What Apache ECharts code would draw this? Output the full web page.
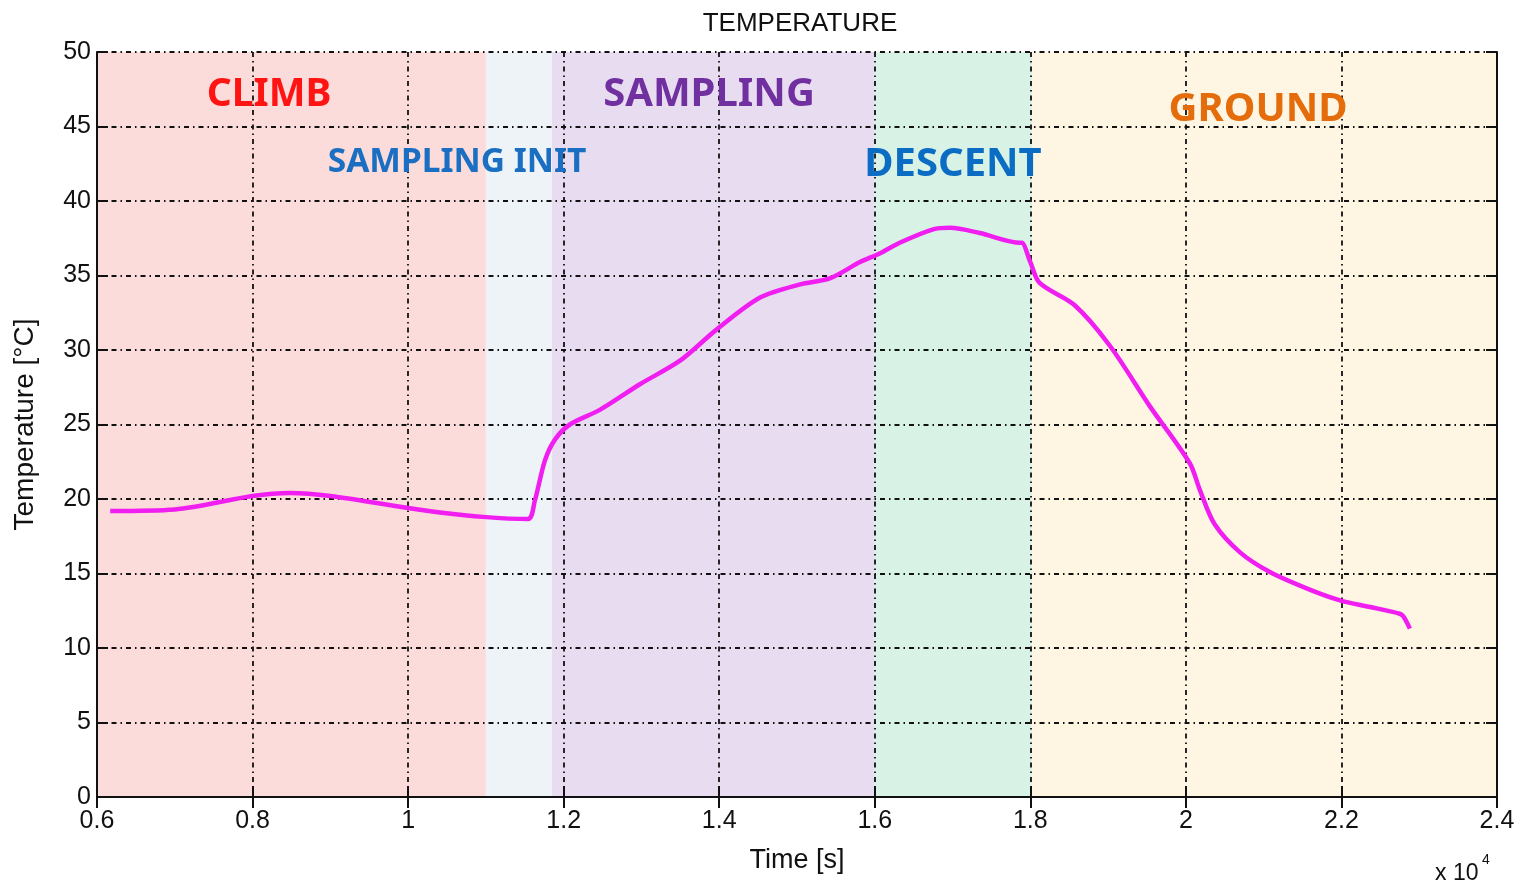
<!DOCTYPE html>
<html>
<head>
<meta charset="utf-8">
<script src="https://cdn.jsdelivr.net/npm/echarts@6/dist/echarts.min.js"></script>
<style>
  html, body { margin: 0; padding: 0; background: #fff; }
  #main { width: 1522px; height: 888px; }
</style>
</head>
<body>
<div id="main"></div>
<script>
// time in seconds, temperature in °C
let timeSec = [6170, 7000, 8000, 8480, 9000, 10000, 10410, 10960, 11540, 11630, 11760, 11890,
    12080, 12470, 12980, 13500, 13950, 14520, 15040, 15420, 15810, 16070, 16320, 16750,
    16970, 17350, 17870, 17890, 18000, 18120, 18570, 19020, 19540, 20050, 20180, 20370,
    20700, 21080, 21600, 21980, 22370, 22750, 22800, 22880];
let tempC = [19.2, 19.3, 20.2, 20.4, 20.2, 19.4, 19.1, 18.8, 18.65, 19.9, 22.6, 24.0,
    25.0, 26.0, 27.7, 29.3, 31.3, 33.5, 34.4, 34.8, 35.9, 36.5, 37.2, 38.1,
    38.2, 37.85, 37.2, 37.2, 35.9, 34.5, 33.0, 30.3, 26.2, 22.4, 20.6, 18.3,
    16.4, 15.1, 13.9, 13.2, 12.75, 12.3, 12.1, 11.3];

// flight phases
let phaseNames = ['CLIMB', 'SAMPLING INIT', 'SAMPLING', 'DESCENT', 'GROUND'];
let phaseStart = [6000, 11000, 11850, 16000, 18020];
let phaseEnd = [11000, 11850, 16000, 18020, 24000];
let phaseColors = ['#fcdcdb', '#eef3f8', '#e8dcf0', '#d8f3e6', '#fef5e2'];
let phaseTextColors = ['#ff1414', '#1b6fc2', '#7030a0', '#0b6cc4', '#e46c0a'];

let xTicks = [6000, 24000, 2000];
let yTicks = [0, 50, 5];

let myChart = echarts.init(document.getElementById('main'));

let lineData = [];
for (let i = 0; i < timeSec.length; i++) {
    lineData.push([timeSec[i], tempC[i]]);
}

let bands = [];
for (let i = 0; i < phaseNames.length; i++) {
    bands.push([
        { xAxis: phaseStart[i], itemStyle: { color: phaseColors[i] } },
        { xAxis: phaseEnd[i] }
    ]);
}

// label positions (pixel centres) and sizes of the phase names
let labelPos = [[269, 95, 39], [457, 162, 33.5], [709, 95, 40], [953, 165, 40], [1258, 110, 40]];
let labels = [];
for (let i = 0; i < phaseNames.length; i++) {
    labels.push({
        type: 'text',
        x: labelPos[i][0],
        y: labelPos[i][1],
        z: 100,
        style: {
            text: phaseNames[i],
            fill: phaseTextColors[i],
            font: 'bold ' + labelPos[i][2] + 'px "Noto Sans"',
            textAlign: 'center',
            textVerticalAlign: 'middle'
        }
    });
}

let gridLine = {
    show: true,
    lineStyle: { color: '#111', width: 1.8, type: [5, 4, 1.5, 4] }
};

let tickStyle = { show: true, inside: true, length: 11, lineStyle: { color: '#111', width: 2 } };

let option = {
    animation: false,
    title: {
        text: 'TEMPERATURE',
        left: 795,
        top: 6,
        textAlign: 'center',
        textStyle: { fontFamily: 'Liberation Sans', fontSize: 26, fontWeight: 'normal', color: '#111' }
    },
    grid: { left: 97, right: 25, top: 52, bottom: 91 },
    xAxis: [{
        type: 'value',
        min: xTicks[0], max: xTicks[1], interval: xTicks[2],
        name: 'Time [s]',
        nameLocation: 'middle',
        nameGap: 50,
        nameTextStyle: { fontFamily: 'Liberation Sans', fontSize: 27, color: '#111' },
        axisLine: { show: true, onZero: false, lineStyle: { color: '#111', width: 2 } },
        axisTick: tickStyle,
        axisLabel: {
            fontFamily: 'Liberation Sans', fontSize: 25, color: '#111', margin: 12,
            formatter: function (v) { return String(v / 10000); }
        },
        splitLine: gridLine
    }, {
        type: 'value', position: 'top',
        min: xTicks[0], max: xTicks[1], interval: xTicks[2],
        axisLine: { show: true, lineStyle: { color: '#111', width: 2 } },
        axisTick: tickStyle,
        axisLabel: { show: false },
        splitLine: { show: false }
    }],
    yAxis: [{
        type: 'value',
        min: yTicks[0], max: yTicks[1], interval: yTicks[2],
        name: 'Temperature [°C]',
        nameLocation: 'middle',
        nameGap: 58,
        nameTextStyle: { fontFamily: 'Liberation Sans', fontSize: 28, color: '#111' },
        axisLine: { show: true, lineStyle: { color: '#111', width: 2 } },
        axisTick: tickStyle,
        axisLabel: { fontFamily: 'Liberation Sans', fontSize: 25, color: '#111', margin: 6 },
        splitLine: gridLine
    }, {
        type: 'value', position: 'right',
        min: yTicks[0], max: yTicks[1], interval: yTicks[2],
        axisLine: { show: true, lineStyle: { color: '#111', width: 2 } },
        axisTick: tickStyle,
        axisLabel: { show: false },
        splitLine: { show: false }
    }],
    graphic: labels.concat([{
        type: 'text',
        left: 1435,
        top: 862,
        style: {
            text: 'x 10',
            fill: '#111',
            font: '23px "Liberation Sans"'
        }
    }, {
        type: 'text',
        left: 1482,
        top: 853,
        style: {
            text: '4',
            fill: '#111',
            font: '14px "Liberation Sans"'
        }
    }]),
    series: [{
        type: 'line',
        data: lineData,
        showSymbol: false,
        smooth: 0.3,
        lineStyle: { color: '#f01ef0', width: 4.5 },
        z: 5,
        markArea: {
            silent: true,
            z: -1,
            data: bands
        }
    }]
};

myChart.setOption(option);
</script>
</body>
</html>
